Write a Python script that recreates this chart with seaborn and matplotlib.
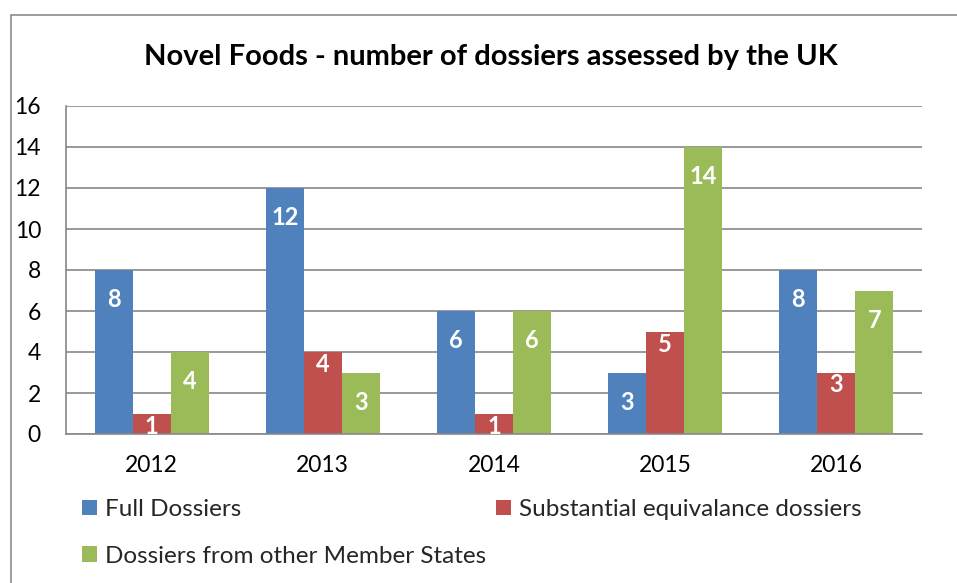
import matplotlib
matplotlib.use("Agg")
import matplotlib.pyplot as plt
import seaborn as sns
import pandas as pd
from matplotlib.patches import Rectangle

years = ["2012", "2013", "2014", "2015", "2016"]
series_names = ["Full Dossiers", "Substantial equivalance dossiers", "Dossiers from other Member States"]
full_dossiers = [8, 12, 6, 3, 8]
substantial_equivalence = [1, 4, 1, 5, 3]
other_member_states = [4, 3, 6, 14, 7]
colors = ["#4F81BD", "#C0504D", "#9BBB59"]
title = "Novel Foods - number of dossiers assessed by the UK"
y_ticks = [0, 2, 4, 6, 8, 10, 12, 14, 16]

rows = []
for name, vals in zip(series_names, [full_dossiers, substantial_equivalence, other_member_states]):
    for y, v in zip(years, vals):
        rows.append({"year": y, "series": name, "value": v})
df = pd.DataFrame(rows)

sns.set_theme(style="white")
plt.rcParams["font.family"] = ["Lato", "DejaVu Sans"]

W, H = 957, 583
fig = plt.figure(figsize=(W / 100, H / 100), dpi=100)
ax = fig.add_axes([66 / W, 1 - 434 / H, (922 - 66) / W, (434 - 106) / H])

sns.barplot(data=df, x="year", y="value", hue="series", order=years,
            hue_order=series_names, palette=colors, width=0.667, gap=0,
            linewidth=0, saturation=1, ax=ax, errorbar=None)

grid_c = "#888888"
ax.set_ylim(0, 16)
ax.set_xlim(-0.5, 4.5)
ax.set_yticks(y_ticks)
ax.set_yticklabels([str(t) for t in y_ticks], fontsize=16.5)
ax.yaxis.grid(True, color=grid_c, linewidth=1.2)
ax.set_axisbelow(True)
for s in ["top", "right"]:
    ax.spines[s].set_visible(False)
for s in ["left", "bottom"]:
    ax.spines[s].set_color(grid_c)
    ax.spines[s].set_linewidth(1.2)
ax.tick_params(axis="y", length=6, width=1.2, color=grid_c, pad=12, labelcolor="black")
ax.tick_params(axis="x", which="major", length=0, pad=15, labelsize=16.5, labelcolor="black")
ax.set_xticks([i - 0.5 for i in range(len(years) + 1)], minor=True)
ax.tick_params(axis="x", which="minor", length=6, width=1.2, color=grid_c)
ax.set_xlabel("")
ax.set_ylabel("")

offsets = [-21.5, -9, -21.5]
for cont, off in zip(ax.containers, offsets):
    for p in cont:
        h = p.get_height()
        ax.annotate(f"{int(h)}", xy=(p.get_x() + p.get_width() / 2, h),
                    xytext=(0, off), textcoords="offset points",
                    ha="center", va="center", color="white",
                    fontsize=17, fontweight="bold", annotation_clip=False)

handles, labels = ax.get_legend_handles_labels()
ax.get_legend().remove()
order = [0, 2, 1]
fig.legend([handles[i] for i in order], [labels[i] for i in order],
           ncol=2, loc="upper left", bbox_to_anchor=(82 / W, 1 - 499 / H),
           frameon=False, fontsize=17.5, handlelength=0.6, handleheight=0.6,
           handletextpad=0.35, columnspacing=0.4, labelspacing=1.05,
           borderpad=0, borderaxespad=0)

fig.text(491 / W, 1 - 57 / H, title, ha="center", va="center",
         fontsize=21, fontweight="bold", color="black")

fig.patches.append(Rectangle((11 / W, -0.1), 1.2, 1 - 15 / H + 0.1,
                             transform=fig.transFigure, fill=False,
                             edgecolor="#8c8c8c", linewidth=1.2))

fig.savefig("out.png", dpi=100)
